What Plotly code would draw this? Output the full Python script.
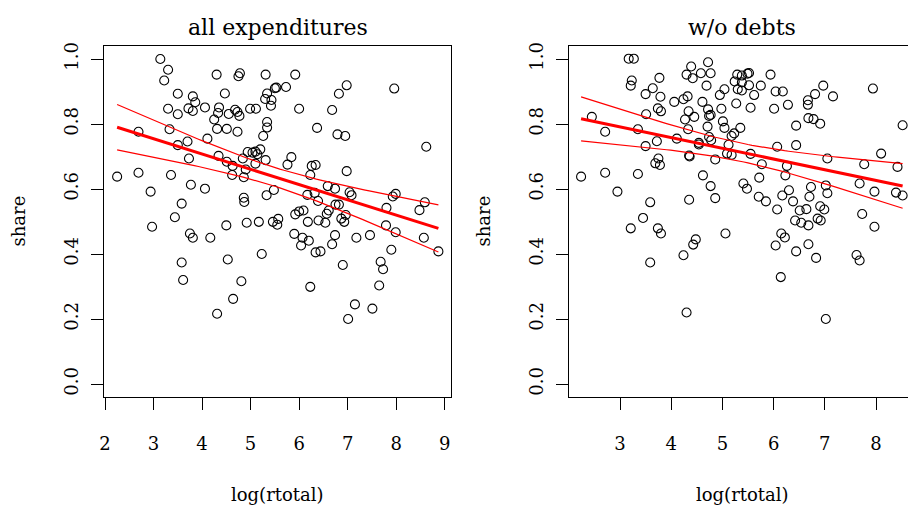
import numpy as np
import plotly.graph_objects as go

# ---------------- data ----------------
# Panel 1: all expenditures
x_all = [3.14, 3.30, 3.22, 4.30, 4.78, 4.75, 5.31,
         3.50, 3.81, 3.86, 4.47, 4.06, 3.30, 3.50,
         3.72, 3.81, 4.35, 4.33, 4.25, 4.55,
         4.68, 4.73, 4.77, 4.99, 5.11, 5.30, 5.34, 5.43, 5.42, 5.50, 5.53, 5.34, 5.34, 5.26, 5.20,
         2.69, 3.33, 4.31, 4.51, 4.73, 4.11, 3.70, 3.50, 3.73, 4.34, 4.51, 4.63, 4.84, 4.94, 5.04,
         5.10, 5.14, 5.31, 5.10, 4.90, 4.62, 4.86,
         2.25, 2.69, 3.36, 2.94, 3.77, 4.06, 3.58, 4.86, 4.87, 5.33, 5.48, 3.44,
         5.92, 5.73, 6.98, 6.82, 7.96, 6.00, 6.68, 6.37, 6.79, 6.95, 8.62, 5.84, 5.76, 6.26, 6.34,
         6.23, 6.98, 6.59, 6.74, 6.17, 6.32, 6.39, 7.04, 7.08, 6.75, 6.82, 7.93, 7.99, 7.80, 8.59,
         8.48, 5.92, 6.00, 6.09, 6.57, 6.61,
         2.97, 3.75, 3.81, 4.17, 4.50, 4.92, 5.17, 5.46, 5.57, 5.55, 3.58, 3.61, 4.53, 5.23, 4.81,
         4.64, 4.31,
         6.18, 6.40, 6.54, 6.87, 6.93, 6.96, 5.90, 6.07, 6.04, 6.20, 6.34, 6.44, 6.74, 6.68, 7.18,
         7.46, 7.79, 7.99, 8.57, 7.90, 8.87, 6.90, 7.68, 7.73, 7.65, 6.23, 7.15, 7.51, 7.01]
share_all = [1.000, 0.967, 0.934, 0.952, 0.956, 0.947, 0.952,
             0.893, 0.885, 0.867, 0.894, 0.851, 0.847, 0.830,
             0.848, 0.840, 0.851, 0.834, 0.814, 0.831,
             0.844, 0.837, 0.825, 0.847, 0.847, 0.877, 0.894, 0.874, 0.856, 0.910, 0.912, 0.806, 0.789, 0.763, 0.722,
             0.776, 0.784, 0.785, 0.785, 0.776, 0.755, 0.746, 0.735, 0.694, 0.702, 0.684, 0.671, 0.694, 0.714, 0.712,
             0.715, 0.707, 0.689, 0.678, 0.660, 0.643, 0.636,
             0.638, 0.650, 0.643, 0.592, 0.613, 0.601, 0.555, 0.573, 0.560, 0.581, 0.597, 0.513,
             0.952, 0.914, 0.919, 0.893, 0.909, 0.847, 0.843, 0.788, 0.768, 0.763, 0.730, 0.698, 0.675, 0.671, 0.674,
             0.643, 0.655, 0.609, 0.601, 0.582, 0.588, 0.563, 0.590, 0.581, 0.552, 0.552, 0.577, 0.585, 0.542, 0.559,
             0.535, 0.522, 0.531, 0.534, 0.524, 0.534,
             0.484, 0.463, 0.450, 0.450, 0.488, 0.496, 0.499, 0.499, 0.508, 0.490, 0.374, 0.320, 0.383, 0.400, 0.316,
             0.262, 0.216,
             0.499, 0.503, 0.496, 0.509, 0.499, 0.520, 0.462, 0.450, 0.426, 0.441, 0.405, 0.408, 0.458, 0.430, 0.450,
             0.458, 0.488, 0.467, 0.450, 0.413, 0.408, 0.366, 0.376, 0.353, 0.303, 0.299, 0.245, 0.232, 0.200]

# Panel 2: w/o debts
x_nodebt = [3.17, 3.27, 3.23, 3.21, 3.77, 3.64, 3.50, 3.79, 4.39, 4.72, 4.30, 4.42, 4.58, 4.77, 4.69,
            4.06, 4.24, 4.32, 4.61, 4.95, 5.04,
            3.51, 3.74, 3.80, 4.34, 4.27, 4.45, 4.72, 4.74, 4.77, 4.98, 5.01, 5.04, 4.71, 4.33,
            2.45, 2.71, 3.35, 3.72, 3.50, 4.11, 4.54, 4.54, 4.74, 4.78, 4.35, 4.36, 4.86, 5.09, 5.12,
            3.75, 3.69, 3.78,
            2.24, 2.71, 3.35, 2.95, 4.62, 4.77, 3.59, 4.35, 4.86, 3.45,
            5.29, 5.38, 5.49, 5.52, 5.94, 5.24, 5.38, 5.52, 5.30, 5.38, 5.75, 5.62, 6.04, 6.18, 6.97,
            6.81, 7.16, 7.94, 5.27, 5.55, 6.01, 6.28, 6.67, 6.67, 6.68, 6.78, 6.91, 6.44, 8.52, 5.35,
            5.23, 5.18, 6.07, 6.44, 5.55, 5.18, 7.05, 8.10, 5.77, 6.26, 7.77, 8.42, 5.72, 6.23, 5.41,
            5.48, 7.68, 6.73, 7.02, 7.05, 6.30, 6.17, 6.70, 7.97, 8.39, 8.52, 5.71, 5.85, 6.38, 6.07,
            6.51, 6.64, 6.91, 6.99, 7.73,
            7.97, 6.42, 6.54, 6.68, 6.86, 6.92, 6.15, 6.22, 6.04, 6.44, 6.68, 6.83, 7.62, 7.68, 6.14,
            7.02,
            3.21, 3.74, 3.80, 3.59, 4.24, 4.43, 4.48, 5.06, 4.30]
share_nodebt = [1.001, 1.001, 0.934, 0.918, 0.942, 0.910, 0.892, 0.884, 0.977, 0.990, 0.952, 0.941, 0.956, 0.956, 0.918,
                0.868, 0.876, 0.885, 0.868, 0.889, 0.907,
                0.830, 0.848, 0.839, 0.839, 0.814, 0.822, 0.845, 0.825, 0.828, 0.847, 0.808, 0.788, 0.792, 0.784,
                0.822, 0.776, 0.784, 0.747, 0.732, 0.755, 0.742, 0.737, 0.760, 0.750, 0.703, 0.700, 0.691, 0.709, 0.736,
                0.694, 0.679, 0.674,
                0.638, 0.650, 0.646, 0.592, 0.642, 0.609, 0.559, 0.567, 0.572, 0.511,
                0.952, 0.949, 0.955, 0.957, 0.952, 0.931, 0.928, 0.919, 0.907, 0.903, 0.918, 0.889, 0.900, 0.900, 0.918,
                0.892, 0.885, 0.909, 0.863, 0.850, 0.847, 0.859, 0.873, 0.859, 0.818, 0.815, 0.801, 0.795, 0.796, 0.788,
                0.771, 0.763, 0.730, 0.735, 0.708, 0.705, 0.694, 0.709, 0.676, 0.671, 0.676, 0.668, 0.635, 0.642, 0.617,
                0.601, 0.617, 0.606, 0.611, 0.587, 0.596, 0.580, 0.576, 0.592, 0.589, 0.580, 0.576, 0.562, 0.562, 0.537,
                0.534, 0.538, 0.547, 0.537, 0.523,
                0.484, 0.503, 0.496, 0.488, 0.509, 0.503, 0.463, 0.451, 0.426, 0.408, 0.430, 0.388, 0.397, 0.380, 0.329,
                0.200,
                0.479, 0.479, 0.463, 0.374, 0.396, 0.429, 0.445, 0.463, 0.220]

panel_titles = ["all expenditures", "w/o debts"]
x_label = "log(rtotal)"
y_label = "share"
x_ticks_left = [2, 3, 4, 5, 6, 7, 8, 9]
x_ticks_right = [2, 3, 4, 5, 6, 7, 8, 9]
y_ticks = [0.0, 0.2, 0.4, 0.6, 0.8, 1.0]


def fit_band(x, y, t=1.976, n_out=80):
    """OLS fit of y on x with 95% confidence band for the mean."""
    x = np.asarray(x, float)
    y = np.asarray(y, float)
    n = len(x)
    b1, b0 = np.polyfit(x, y, 1)
    resid = y - (b0 + b1 * x)
    s2 = np.sum(resid ** 2) / (n - 2)
    xbar = x.mean()
    sxx = np.sum((x - xbar) ** 2)
    xs = np.linspace(x.min(), x.max(), n_out)
    fit = b0 + b1 * xs
    se = np.sqrt(s2 * (1.0 / n + (xs - xbar) ** 2 / sxx))
    return xs, fit, fit - t * se, fit + t * se


W, H = 908, 506
FONT = "DejaVu Serif"

fig = go.Figure()

panels = [(x_all, share_all, "x", "y"), (x_nodebt, share_nodebt, "x2", "y2")]
for xv, yv, xa, ya in panels:
    fig.add_trace(go.Scatter(
        x=xv, y=yv, mode="markers", xaxis=xa, yaxis=ya,
        marker=dict(symbol="circle-open", size=9, color="black", line=dict(width=1.1, color="black")),
        showlegend=False, hoverinfo="x+y", cliponaxis=False))
    xs, fit, lo, hi = fit_band(xv, yv)
    for yy, w in [(fit, 3), (lo, 1.2), (hi, 1.2)]:
        fig.add_trace(go.Scatter(
            x=xs, y=yy, mode="lines", xaxis=xa, yaxis=ya,
            line=dict(color="#FF0000", width=w), showlegend=False, hoverinfo="skip"))


def px_x(p):
    return p / W


def px_y(p):
    return (H - p) / H


box_top, box_bot = 46, 397
L1, R1 = 104, 451
L2 = 569

axis_common = dict(
    showline=True, linecolor="black", linewidth=1,
    ticks="outside", ticklen=12, tickwidth=1, tickcolor="black",
    showgrid=False, zeroline=False, automargin=False,
    tickfont=dict(family=FONT, size=18, color="black"),
)

fig.update_layout(
    width=W, height=H,
    margin=dict(l=0, r=0, t=0, b=0, autoexpand=False),
    paper_bgcolor="white", plot_bgcolor="white",
    xaxis=dict(domain=[px_x(L1), px_x(R1)], range=[1.9794, 9.1297],
               tickvals=x_ticks_left, ticktext=[str(v) for v in x_ticks_left],
               mirror=True, ticklabelstandoff=18, anchor="y", **axis_common),
    yaxis=dict(domain=[px_y(box_bot), px_y(box_top)], range=[-0.04, 1.04],
               tickvals=y_ticks, ticktext=[f"{v:.1f}" for v in y_ticks],
               tickangle=-90, mirror=True, ticklabelstandoff=6, anchor="x", **axis_common),
    xaxis2=dict(domain=[px_x(L2), 1.0], range=[2.004, 8.625],
                tickvals=x_ticks_right, ticktext=[str(v) for v in x_ticks_right],
                mirror=True, ticklabelstandoff=18, anchor="y2", **axis_common),
    yaxis2=dict(domain=[px_y(box_bot), px_y(box_top)], range=[-0.04, 1.04],
                tickvals=y_ticks, ticktext=[f"{v:.1f}" for v in y_ticks],
                tickangle=-90, mirror=False, ticklabelstandoff=6, anchor="x2", **axis_common),
)

ann = []
centers = [(L1 + R1) / 2, 742]
ylab_x = [18, 483]
for i, c in enumerate(centers):
    ann.append(dict(text=panel_titles[i], x=px_x(c), y=px_y(27.5), xref="paper", yref="paper",
                    xanchor="center", yanchor="middle", showarrow=False,
                    font=dict(family=FONT, size=22, color="black")))
    ann.append(dict(text=x_label, x=px_x(c), y=px_y(494), xref="paper", yref="paper",
                    xanchor="center", yanchor="middle", showarrow=False,
                    font=dict(family=FONT, size=18, color="black")))
    ann.append(dict(text=y_label, x=px_x(ylab_x[i]), y=px_y((box_top + box_bot) / 2),
                    xref="paper", yref="paper", textangle=-90,
                    xanchor="center", yanchor="middle", showarrow=False,
                    font=dict(family=FONT, size=18, color="black")))
fig.update_layout(annotations=ann)

# remove the browser's default page margin so the figure sits at the window origin
fig.write_html("out.html",
               config={"displayModeBar": False},
               post_script="document.body.style.margin='0';document.body.style.overflow='hidden';")
